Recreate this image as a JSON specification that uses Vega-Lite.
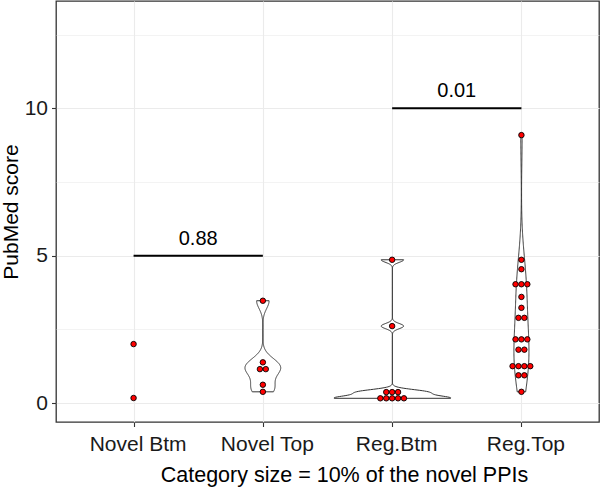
{
  "$schema": "https://vega.github.io/schema/vega-lite/v6.json",
  "width": 543,
  "height": 421,
  "autosize": {"type": "none"},
  "padding": {"left": 56, "top": 1, "right": 1, "bottom": 65},
  "background": "white",
  "config": {
    "font": "Liberation Sans",
    "view": {"stroke": "#333333", "strokeWidth": 1.3}
  },
  "datasets": {
    "pts": [
      {"grp": "Novel Btm", "g": 1, "v": 2.0, "s": 0},
      {"grp": "Novel Btm", "g": 1, "v": 0.17, "s": 0},
      {"grp": "Novel Top", "g": 2, "v": 3.47, "s": 0},
      {"grp": "Novel Top", "g": 2, "v": 1.38, "s": 0},
      {"grp": "Novel Top", "g": 2, "v": 1.15, "s": -0.5},
      {"grp": "Novel Top", "g": 2, "v": 1.15, "s": 0.5},
      {"grp": "Novel Top", "g": 2, "v": 0.62, "s": 0},
      {"grp": "Novel Top", "g": 2, "v": 0.38, "s": 0},
      {"grp": "Reg.Btm", "g": 3, "v": 4.86, "s": 0},
      {"grp": "Reg.Btm", "g": 3, "v": 2.61, "s": 0},
      {"grp": "Reg.Btm", "g": 3, "v": 0.37, "s": -1},
      {"grp": "Reg.Btm", "g": 3, "v": 0.37, "s": 0},
      {"grp": "Reg.Btm", "g": 3, "v": 0.37, "s": 1},
      {"grp": "Reg.Btm", "g": 3, "v": 0.16, "s": -2},
      {"grp": "Reg.Btm", "g": 3, "v": 0.16, "s": -1},
      {"grp": "Reg.Btm", "g": 3, "v": 0.16, "s": 0},
      {"grp": "Reg.Btm", "g": 3, "v": 0.16, "s": 1},
      {"grp": "Reg.Btm", "g": 3, "v": 0.16, "s": 2},
      {"grp": "Reg.Top", "g": 4, "v": 9.09, "s": 0},
      {"grp": "Reg.Top", "g": 4, "v": 4.86, "s": 0},
      {"grp": "Reg.Top", "g": 4, "v": 4.54, "s": 0},
      {"grp": "Reg.Top", "g": 4, "v": 4.03, "s": -1},
      {"grp": "Reg.Top", "g": 4, "v": 4.03, "s": 0},
      {"grp": "Reg.Top", "g": 4, "v": 4.03, "s": 1},
      {"grp": "Reg.Top", "g": 4, "v": 3.6, "s": 0},
      {"grp": "Reg.Top", "g": 4, "v": 3.23, "s": 0},
      {"grp": "Reg.Top", "g": 4, "v": 2.89, "s": -0.5},
      {"grp": "Reg.Top", "g": 4, "v": 2.89, "s": 0.5},
      {"grp": "Reg.Top", "g": 4, "v": 2.16, "s": -1},
      {"grp": "Reg.Top", "g": 4, "v": 2.16, "s": 0},
      {"grp": "Reg.Top", "g": 4, "v": 2.16, "s": 1},
      {"grp": "Reg.Top", "g": 4, "v": 1.81, "s": -0.5},
      {"grp": "Reg.Top", "g": 4, "v": 1.81, "s": 0.5},
      {"grp": "Reg.Top", "g": 4, "v": 1.25, "s": -1.5},
      {"grp": "Reg.Top", "g": 4, "v": 1.25, "s": -0.5},
      {"grp": "Reg.Top", "g": 4, "v": 1.25, "s": 0.5},
      {"grp": "Reg.Top", "g": 4, "v": 1.25, "s": 1.5},
      {"grp": "Reg.Top", "g": 4, "v": 0.94, "s": -0.5},
      {"grp": "Reg.Top", "g": 4, "v": 0.94, "s": 0.5},
      {"grp": "Reg.Top", "g": 4, "v": 0.38, "s": 0}
    ],
    "brk": [
      {"x1": 1, "x2": 2, "xm": 1.5, "v": 5, "p": "0.88"},
      {"x1": 3, "x2": 4, "xm": 3.5, "v": 10, "p": "0.01"}
    ]
  },
  "encoding": {
    "y": {
      "field": "v",
      "type": "quantitative",
      "scale": {"domain": [-0.644, 13.64], "nice": false, "zero": false},
      "axis": {
        "values": [0, 2.5, 5, 7.5, 10, 12.5],
        "labelExpr": "datum.value % 5 === 0 ? format(datum.value, 'd') : ''",
        "grid": true,
        "gridColor": "#EBEBEB",
        "gridWidth": {"condition": {"test": "datum.value % 5 === 0", "value": 1.1}, "value": 0.6},
        "tickOpacity": {"condition": {"test": "datum.value % 5 === 0", "value": 1}, "value": 0},
        "domain": false,
        "tickColor": "#333333",
        "tickSize": 4.5,
        "tickWidth": 1.1,
        "labelFontSize": 21,
        "labelColor": "#1a1a1a",
        "labelPadding": 4,
        "labelFlush": false,
        "title": "PubMed score",
        "titleFontSize": 21,
        "titleFontWeight": "normal",
        "titleColor": "#000000",
        "titlePadding": 3
      }
    }
  },
  "layer": [
    {
      "data": {"name": "pts"},
      "transform": [
        {"filter": "datum.grp === 'Novel Top'"},
        {"density": "v", "bandwidth": 0.267, "extent": [0.38, 3.47], "steps": 300, "as": ["v", "density"]}
      ],
      "mark": {"type": "area", "orient": "horizontal", "fill": "#FFFFFF", "stroke": "#333333", "strokeWidth": 1},
      "encoding": {
        "x": {"field": "density", "type": "quantitative", "stack": "center",
              "scale": {"domain": [-3.774, 7.070], "nice": false, "zero": false}, "axis": null}
      }
    },
    {
      "data": {"name": "pts"},
      "transform": [
        {"filter": "datum.grp === 'Reg.Btm'"},
        {"density": "v", "bandwidth": 0.089, "extent": [0.16, 4.86], "steps": 400, "as": ["v", "density"]}
      ],
      "mark": {"type": "area", "orient": "horizontal", "fill": "#FFFFFF", "stroke": "#333333", "strokeWidth": 1},
      "encoding": {
        "x": {"field": "density", "type": "quantitative", "stack": "center",
              "scale": {"domain": [-5.551, 5.293], "nice": false, "zero": false}, "axis": null}
      }
    },
    {
      "data": {"name": "pts"},
      "transform": [
        {"filter": "datum.grp === 'Reg.Top'"},
        {"density": "v", "bandwidth": 0.93, "extent": [0.38, 9.09], "steps": 300, "as": ["v", "density"]}
      ],
      "mark": {"type": "area", "orient": "horizontal", "fill": "#FFFFFF", "stroke": "#333333", "strokeWidth": 1},
      "encoding": {
        "x": {"field": "density", "type": "quantitative", "stack": "center",
              "scale": {"domain": [-6.776, 1.259], "nice": false, "zero": false}, "axis": null}
      }
    },
    {
      "data": {"name": "brk"},
      "mark": {"type": "rule", "color": "#000000", "strokeWidth": 2},
      "encoding": {
        "x": {"field": "x1", "type": "quantitative", "scale": {"domain": [0.4, 4.6], "nice": false, "zero": false}, "axis": null},
        "x2": {"field": "x2"}
      }
    },
    {
      "data": {"name": "brk"},
      "mark": {"type": "text", "fontSize": 20, "baseline": "alphabetic", "dy": -11, "color": "#000000"},
      "encoding": {
        "x": {"field": "xm", "type": "quantitative", "scale": {"domain": [0.4, 4.6], "nice": false, "zero": false}, "axis": null},
        "text": {"field": "p"}
      }
    },
    {
      "data": {"name": "pts"},
      "mark": {"type": "circle", "fill": "#FF0000", "stroke": "#000000", "strokeWidth": 0.9, "size": 30, "opacity": 1},
      "encoding": {
        "x": {
          "field": "grp",
          "type": "nominal",
          "sort": null,
          "scale": {"type": "point", "padding": 0.6, "domain": ["Novel Btm", "Novel Top", "Reg.Btm", "Reg.Top"]},
          "axis": {
            "labelAngle": 0,
            "grid": true,
            "gridColor": "#EBEBEB",
            "gridWidth": 1.1,
            "domain": false,
            "tickColor": "#333333",
            "tickSize": 4.5,
            "tickWidth": 1.1,
            "labelFontSize": 21,
            "labelColor": "#1a1a1a",
            "labelPadding": 7,
            "labelOffset": 4,
            "title": "Category size = 10% of the novel PPIs",
            "titleFontSize": 21.5,
            "titleFontWeight": "normal",
            "titleColor": "#000000",
            "titlePadding": 10,
            "titleX": 288
          }
        },
        "xOffset": {
          "field": "s",
          "type": "ordinal",
          "scale": {"type": "point", "padding": 0, "domain": [-2, -1.5, -1, -0.5, 0, 0.5, 1, 1.5, 2], "range": [-11.8, 11.8]}
        }
      }
    }
  ],
  "resolve": {"scale": {"x": "independent"}}
}
